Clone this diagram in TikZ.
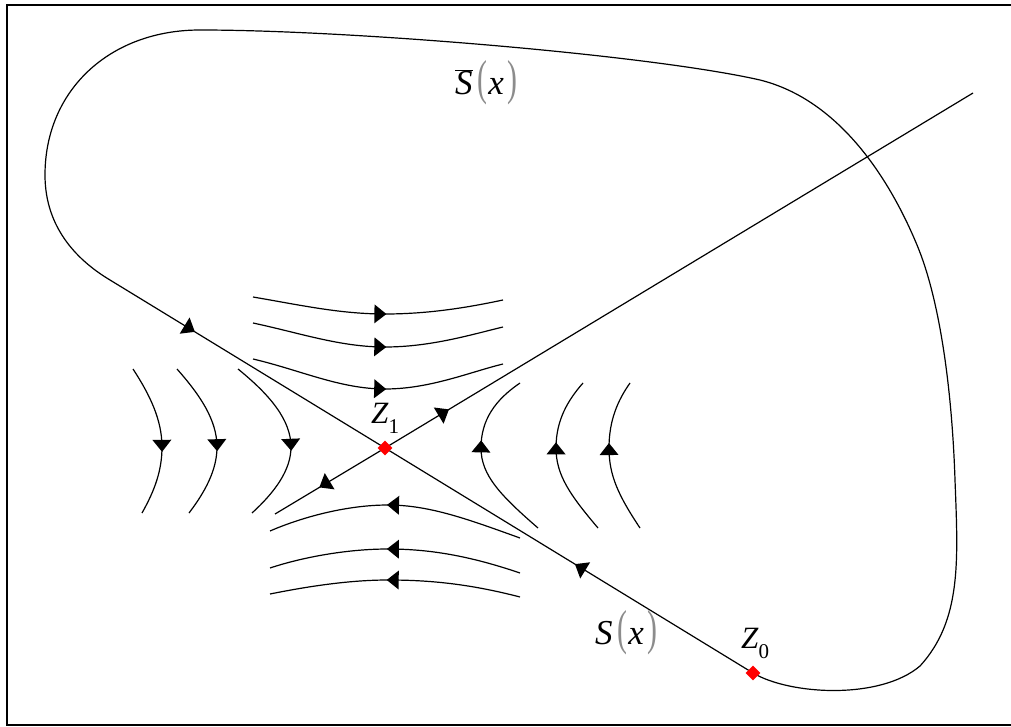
\documentclass[tikz,border=0pt]{standalone}
\usepackage{fontspec}
\setmainfont{Liberation Serif}
\usetikzlibrary{shapes.geometric,decorations.markings}
\newcommand\mygp[1]{{\color{black!45}\scalebox{0.85}[1.4]{#1}}}
\newcommand\mysub[1]{\raisebox{-0.32em}{\fontsize{21}{21}\selectfont #1}}
\begin{document}
\begin{tikzpicture}[x=1pt,y=-1pt,
  curve/.style={line width=1.2pt, line join=round},
  tri/.style={postaction={decorate}, decoration={markings, mark=at position #1 with {\fill (6pt,0pt) -- (-6pt,9.5pt) -- (-6pt,-9.5pt) -- cycle;}}},
  lab/.style={font=\fontsize{31}{34}\selectfont, inner sep=0pt},
  slab/.style={font=\fontsize{35}{38}\selectfont, inner sep=0pt},
  pt/.style={diamond, fill=red, inner sep=0pt, minimum size=15pt},
  frame/.style={line width=2.5pt}]
\useasboundingbox (0,0) rectangle (1011,727);
% frame
\draw[frame] (1011,5) -- (7,5) -- (7,725) -- (1011,725);
% key points
\coordinate (Z1) at (385,448);
\coordinate (Z0) at (753,673);
\coordinate (A) at (110,280);
\coordinate (U1) at (973,93);
\coordinate (U2) at (275,514);
% stable manifold S(x) and the closed curve
\draw[curve, tri=0.47] (Z0) -- (Z1);
\draw[curve, tri=0.29] (A) -- (Z1);
\draw[curve] (A) .. controls (80,262) and (45,230) .. (45,175)
  .. controls (45,90) and (110,30) .. (200,30)
  .. controls (350,30) and (650,55) .. (760,80)
  .. controls (840,100) and (890,180) .. (917,245)
  .. controls (940,300) and (952,390) .. (955,480)
  .. controls (958,560) and (962,620) .. (920,666)
  .. controls (880,700) and (790,695) .. (Z0);
% unstable manifold
\draw[curve, tri=0.10] (Z1) -- (U1);
\draw[curve, tri=0.55] (Z1) -- (U2);
% top hyperbolae
\draw[curve, tri=0.51] (253,297) .. controls (300,305) and (340,314) .. (385,314) .. controls (430,314) and (470,307) .. (503,300);
\draw[curve, tri=0.51] (253,323) .. controls (300,333) and (340,347) .. (385,347) .. controls (430,347) and (470,335) .. (503,327);
\draw[curve, tri=0.51] (253,359) .. controls (300,370) and (340,389) .. (385,389) .. controls (430,389) and (470,372) .. (503,364);
% bottom hyperbolae
\draw[curve, tri=0.51] (520,538) .. controls (470,520) and (430,505) .. (388,505) .. controls (345,505) and (300,518) .. (270,531);
\draw[curve, tri=0.51] (520,573) .. controls (470,556) and (430,549) .. (388,549) .. controls (345,549) and (300,558) .. (270,568);
\draw[curve, tri=0.51] (520,597) .. controls (470,584) and (430,580) .. (388,580) .. controls (345,580) and (300,588) .. (270,594);
% left hyperbolae
\draw[curve, tri=0.54] (133,369) .. controls (150,395) and (162,420) .. (162,447) .. controls (162,470) and (155,490) .. (142,513);
\draw[curve, tri=0.54] (177,369) .. controls (200,395) and (217,420) .. (217,447) .. controls (217,470) and (205,492) .. (189,513);
\draw[curve, tri=0.54] (238,369) .. controls (270,395) and (291,420) .. (291,447) .. controls (291,470) and (275,492) .. (252,513);
% right hyperbolae
\draw[curve, tri=0.57] (538,528) .. controls (500,495) and (481,475) .. (481,448) .. controls (481,420) and (495,400) .. (520,383);
\draw[curve, tri=0.56] (598,528) .. controls (570,495) and (556,475) .. (556,448) .. controls (556,420) and (568,400) .. (583,383);
\draw[curve, tri=0.55] (640,528) .. controls (618,495) and (609,475) .. (609,448) .. controls (609,420) and (618,400) .. (630,383);
% points
\node[pt] (z1) at (Z1) {};
\node[pt] (z0) at (Z0) {};
% labels
\node[lab] (lz1) at (385,418) {\textit{Z}\mysub{1}};
\node[lab] (lz0) at (755,643) {\textit{Z}\mysub{0}};
\node[slab] (ls) at (626,633) {\textit{S}\kern5pt\mygp{(}\kern1pt\textit{x}\kern3pt\mygp{)}};
\node[slab] (lsb) at (486,83) {$\overline{\mbox{\textit{S}}}$\kern5pt\mygp{(}\kern1pt\textit{x}\kern3pt\mygp{)}};
\end{tikzpicture}
\end{document}
